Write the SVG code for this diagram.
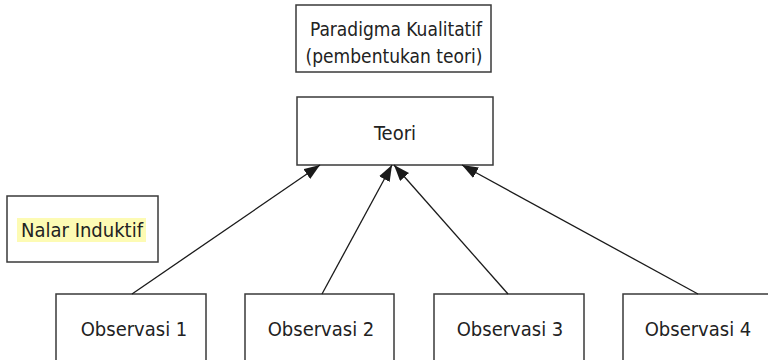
<svg xmlns="http://www.w3.org/2000/svg" width="768" height="360" viewBox="0 0 768 360">
  <defs>
    <marker id="arrow" viewBox="0 0 16 12" refX="16" refY="6" markerWidth="16" markerHeight="12" markerUnits="userSpaceOnUse" orient="auto">
      <path d="M0,0 L16,6 L0,12 Z" fill="#1a1a1a"/>
    </marker>
  </defs>
  <style>
    .box { fill: #ffffff; stroke: #3a3a3a; stroke-width: 1.5; }
    .label { font-family: "DejaVu Sans Condensed", "DejaVu Sans", "Liberation Sans", sans-serif; font-stretch: condensed; font-size: 20px; fill: #222222; text-anchor: middle; }
    .small { font-size: 19px; }
    .edge { stroke: #1a1a1a; stroke-width: 1.3; fill: none; marker-end: url(#arrow); }
  </style>
  <rect width="768" height="360" fill="#ffffff"/>

  <g id="paradigma">
    <rect class="box" x="296" y="5" width="195" height="67"/>
    <text class="label small" x="396" y="36">Paradigma Kualitatif</text>
    <text class="label small" x="394" y="63">(pembentukan teori)</text>
  </g>

  <g id="teori">
    <rect class="box" x="297" y="97" width="196" height="68"/>
    <text class="label" x="395" y="140">Teori</text>
  </g>

  <g id="nalar-induktif">
    <rect class="box" x="7" y="196" width="151" height="66"/>
    <rect x="17" y="218" width="129" height="24" fill="#fdfbb4"/>
    <text class="label" x="82" y="237">Nalar Induktif</text>
  </g>

  <g id="observasi-1">
    <rect class="box" x="56" y="294" width="150" height="80"/>
    <text class="label" x="134" y="336">Observasi 1</text>
  </g>
  <g id="observasi-2">
    <rect class="box" x="245" y="294" width="149" height="80"/>
    <text class="label" x="321" y="336">Observasi 2</text>
  </g>
  <g id="observasi-3">
    <rect class="box" x="434" y="294" width="150" height="80"/>
    <text class="label" x="510" y="336">Observasi 3</text>
  </g>
  <g id="observasi-4">
    <rect class="box" x="623" y="294" width="150" height="80"/>
    <text class="label" x="698" y="336">Observasi 4</text>
  </g>

  <g id="connectors">
    <line class="edge" x1="132" y1="294" x2="320" y2="165"/>
    <line class="edge" x1="322" y1="294" x2="392" y2="165"/>
    <line class="edge" x1="508" y1="294" x2="394" y2="165"/>
    <line class="edge" x1="698" y1="294" x2="462" y2="165"/>
  </g>
</svg>
